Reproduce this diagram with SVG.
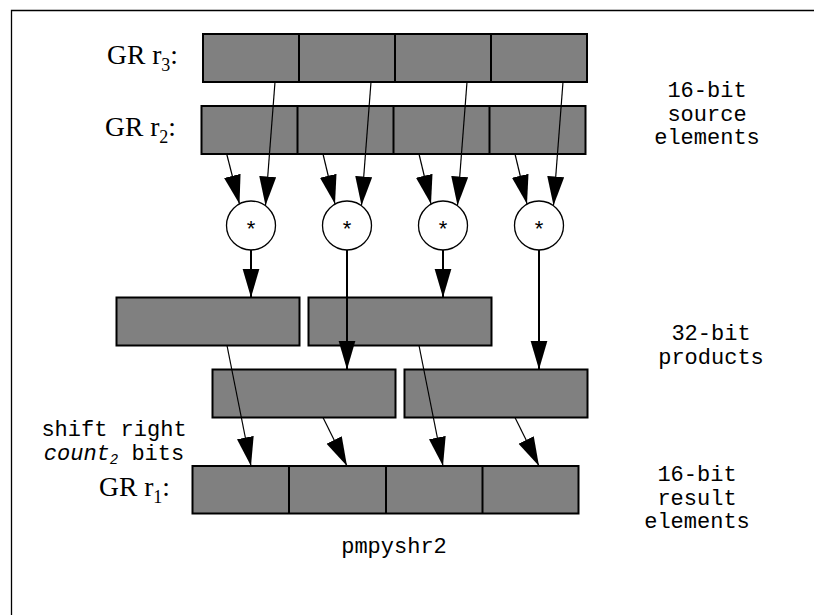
<svg xmlns="http://www.w3.org/2000/svg" width="814" height="615" viewBox="0 0 814 615">
<style>
.box{fill:#808080;stroke:#000;stroke-width:2}
.div{stroke:#000;stroke-width:2}
.op{fill:#fff;stroke:#000;stroke-width:1.3}
.thin{fill:none;stroke:#000;stroke-width:1.2}
.thick{fill:none;stroke:#000;stroke-width:2}
.gr{font-family:"Liberation Serif","Times New Roman",serif;font-size:27.5px;fill:#000}
.mono{font-family:"Liberation Mono","Courier New",monospace;font-size:22px;fill:#000}
.star{font-family:"Liberation Sans",Arial,sans-serif;font-size:22px;fill:#000}
</style>
<defs>
<marker id="ah" markerUnits="userSpaceOnUse" markerWidth="30" markerHeight="18" refX="29" refY="8.5" orient="auto">
<path d="M0,0 L29,8.5 L0,17 Z" fill="#000"/>
</marker>
</defs>
<rect width="814" height="615" fill="#fff"/>
<path d="M11.5,615 V10.5 H814" fill="none" stroke="#000" stroke-width="1.3"/>

<g id="r3">
<rect class="box" x="203" y="34" width="384" height="48"/>
<path class="div" d="M299,34V82M395,34V82M491,34V82"/>
<text class="gr" x="178" y="64" text-anchor="end">GR r<tspan font-size="18" dy="7">3</tspan><tspan dy="-7">:</tspan></text>
</g>
<g id="r2">
<rect class="box" x="201.5" y="106" width="384" height="48"/>
<path class="div" d="M297.5,106V154M393.5,106V154M489.5,106V154"/>
<text class="gr" x="176" y="136" text-anchor="end">GR r<tspan font-size="18" dy="7">2</tspan><tspan dy="-7">:</tspan></text>
</g>
<g id="mul1"><circle class="op" cx="251" cy="225.5" r="24.5"/><text class="star" x="251" y="236" text-anchor="middle">*</text></g>
<g id="mul2"><circle class="op" cx="347" cy="225.5" r="24.5"/><text class="star" x="347" y="236" text-anchor="middle">*</text></g>
<g id="mul3"><circle class="op" cx="443" cy="225.5" r="24.5"/><text class="star" x="443" y="236" text-anchor="middle">*</text></g>
<g id="mul4"><circle class="op" cx="539" cy="225.5" r="24.5"/><text class="star" x="539" y="236" text-anchor="middle">*</text></g>
<g id="p1"><rect class="box" x="116.5" y="297.5" width="183" height="48"/></g>
<g id="p2"><rect class="box" x="308.5" y="297.5" width="183" height="48"/></g>
<g id="p3"><rect class="box" x="212.5" y="369.5" width="183" height="48"/></g>
<g id="p4"><rect class="box" x="404.5" y="369.5" width="183" height="48"/></g>
<g id="r1">
<rect class="box" x="192.5" y="466" width="386" height="47.5"/>
<path class="div" d="M289,466V513.5M386,466V513.5M482.5,466V513.5"/>
<text class="gr" x="170" y="496" text-anchor="end">GR r<tspan font-size="18" dy="7">1</tspan><tspan dy="-7">:</tspan></text>
</g>

<g id="labels">
<text class="mono" text-anchor="middle"><tspan x="707" y="97">16-bit</tspan><tspan x="707" y="120.5">source</tspan><tspan x="707" y="144">elements</tspan></text>
<text class="mono" text-anchor="middle"><tspan x="711" y="339.5">32-bit</tspan><tspan x="711" y="364">products</tspan></text>
<text class="mono" text-anchor="middle"><tspan x="697" y="481">16-bit</tspan><tspan x="697" y="504.5">result</tspan><tspan x="697" y="528">elements</tspan></text>
<text class="mono" text-anchor="middle"><tspan x="114" y="435.5">shift right</tspan></text>
<text class="mono" x="114" y="460" text-anchor="middle"><tspan font-style="italic">count</tspan><tspan font-style="italic" font-size="14" dy="4">2</tspan><tspan dy="-4"> bits</tspan></text>
<text class="mono" x="394" y="553" text-anchor="middle">pmpyshr2</text>
</g>

<g id="connectors">
<path class="thin" marker-end="url(#ah)" d="M226.7,154 L239.5,204"/>
<path class="thin" marker-end="url(#ah)" d="M275,82 L265.5,205.5"/>
<path class="thin" marker-end="url(#ah)" d="M323,154 L335,204"/>
<path class="thin" marker-end="url(#ah)" d="M371,82 L361.5,205.5"/>
<path class="thin" marker-end="url(#ah)" d="M419,154 L431,204"/>
<path class="thin" marker-end="url(#ah)" d="M467,82 L457.5,205.5"/>
<path class="thin" marker-end="url(#ah)" d="M515,154 L527,204"/>
<path class="thin" marker-end="url(#ah)" d="M563,82 L553.5,205.5"/>
<path class="thick" marker-end="url(#ah)" d="M251,250 V297.5"/>
<path class="thick" marker-end="url(#ah)" d="M347,250 V369.5"/>
<path class="thick" marker-end="url(#ah)" d="M443,250 V297.5"/>
<path class="thick" marker-end="url(#ah)" d="M539,250 V369.5"/>
<path class="thin" marker-end="url(#ah)" d="M227,345.5 L251,466"/>
<path class="thin" marker-end="url(#ah)" d="M323,417.5 L347,466"/>
<path class="thin" marker-end="url(#ah)" d="M419,345.5 L443,466"/>
<path class="thin" marker-end="url(#ah)" d="M515,417.5 L539,466"/>
</g>
</svg>
